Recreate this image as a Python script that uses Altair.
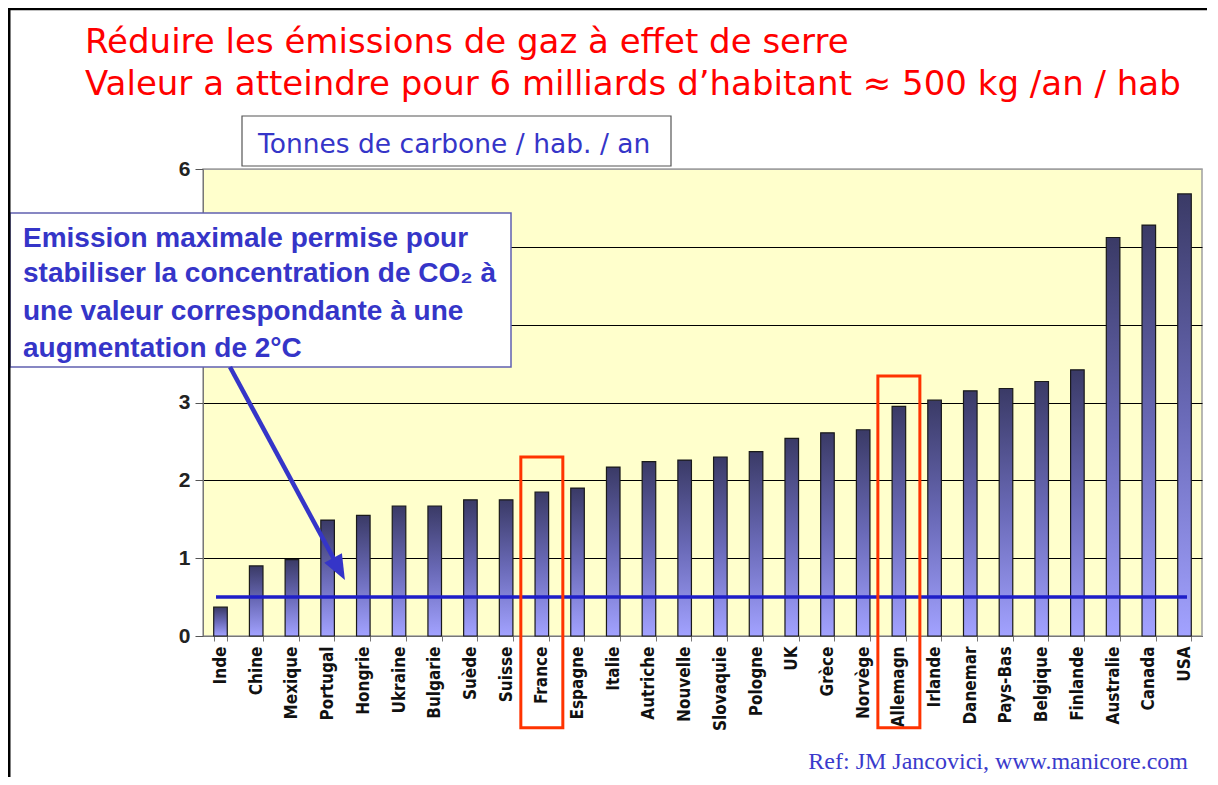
import altair as alt
import pandas as pd

# ---- data ----
countries = ["Inde", "Chine", "Mexique", "Portugal", "Hongrie", "Ukraine", "Bulgarie",
             "Suède", "Suisse", "France", "Espagne", "Italie", "Autriche", "Nouvelle",
             "Slovaquie", "Pologne", "UK", "Grèce", "Norvège", "Allemagn", "Irlande",
             "Danemar", "Pays-Bas", "Belgique", "Finlande", "Australie", "Canada", "USA"]
values = [0.37, 0.90, 0.98, 1.49, 1.55, 1.67, 1.67, 1.75, 1.75, 1.85, 1.90, 2.17, 2.24, 2.26,
          2.30, 2.37, 2.54, 2.61, 2.65, 2.95, 3.03, 3.15, 3.18, 3.27, 3.42, 5.12, 5.28, 5.68]
y_ticks = [0, 1, 2, 3, 4, 5, 6]
target = [0.5]
highlight = ["France", "Allemagn"]
highlight_top = [2.30, 3.34]
highlight_bottom = [-1.18, -1.18]

title_lines = ["Réduire les émissions de gaz à effet de serre",
               "Valeur a atteindre pour 6 milliards d’habitant ≈ 500 kg /an / hab"]
unit_label = "Tonnes de carbone / hab. / an"
note_lines = ["Emission maximale permise pour",
              "stabiliser la concentration de CO₂ à",
              "une valeur correspondante à une",
              "augmentation de 2°C"]
ref_text = "Ref: JM Jancovici, www.manicore.com"

df = pd.DataFrame({"pays": countries, "valeur": values})
df_target = pd.DataFrame({"objectif": target})
df_hl = pd.DataFrame({"pays": highlight, "haut": highlight_top, "bas": highlight_bottom})
one = pd.DataFrame({"k": [0]})

BLUE = "#3535c8"

x_scale = alt.Scale(domain=countries, paddingInner=0.62, paddingOuter=0.3)
y_scale = alt.Scale(domain=[0, 6], nice=False, zero=True)

x_axis = alt.Axis(title=None, labelAngle=270, labelAlign="right", labelBaseline="middle",
                  labelFont="DejaVu Sans Condensed", labelFontWeight="bold", labelFontSize=17,
                  labelColor="#111", labelPadding=5, tickBand="extent", tickSize=5,
                  tickColor="#777", domainColor="#777", grid=False, labelOverlap=False, zindex=0)
y_axis = alt.Axis(title=None, values=y_ticks, format="d", labelFont="Liberation Sans",
                  labelFontWeight="bold", labelFontSize=21, labelColor="#222", tickSize=8,
                  labelExpr="datum.value == 4 || datum.value == 5 ? '' : datum.label",
                  tickColor="#555", domainColor="#777", labelPadding=5, grid=True,
                  gridColor={"condition": {"test": "datum.value >= 6", "value": "#a0a0a0"},
                             "value": "#000000"},
                  gridWidth=1, zindex=0)

x_enc = alt.X("pays:N", sort=countries, scale=x_scale, axis=x_axis)

gradient = alt.Gradient(gradient="linear",
                        stops=[alt.GradientStop(color="#3a3a66", offset=0),
                               alt.GradientStop(color="#6a6ab8", offset=0.5),
                               alt.GradientStop(color="#a2a2ff", offset=1)],
                        x1=0, x2=0, y1=0, y2=1)

bars = alt.Chart(df).mark_bar(color=gradient, stroke="#1a1a1a", strokeWidth=1.2).encode(
    x=x_enc,
    y=alt.Y("valeur:Q", scale=y_scale, axis=y_axis),
)

target_rule = alt.Chart(df_target).mark_rule(color="#1e1ec8", strokeWidth=3.5).encode(
    x=alt.value(13), x2=alt.value(984),
    y=alt.Y("objectif:Q", scale=y_scale, axis=y_axis),
)

hl = alt.Chart(df_hl).mark_bar(fillOpacity=0, stroke="#ff3300", strokeWidth=3, width=42).encode(
    x=x_enc,
    y=alt.Y("haut:Q", scale=y_scale, axis=y_axis),
    y2="bas:Q",
)


def text_layer(txt, x, y, size, color, font, weight="normal", align="left"):
    return alt.Chart(one).mark_text(fontSize=size, color=color, font=font, fontWeight=weight,
                                    align=align, baseline="alphabetic").encode(
        x=alt.value(x), y=alt.value(y), text=alt.value(txt))


def rect_layer(x, x2, y, y2, stroke, sw):
    return alt.Chart(one).mark_rect(fill="white", stroke=stroke, strokeWidth=sw).encode(
        x=alt.value(x), x2=alt.value(x2), y=alt.value(y), y2=alt.value(y2))


def rule_layer(x, y, x2, y2, color, sw):
    return alt.Chart(one).mark_rule(color=color, strokeWidth=sw).encode(
        x=alt.value(x), y=alt.value(y), x2=alt.value(x2), y2=alt.value(y2))


layers = [bars, target_rule, hl]

# title
layers.append(text_layer(title_lines[0], -118, -116, 34, "#ff0000", "DejaVu Sans"))
layers.append(text_layer(title_lines[1], -118, -74, 34, "#ff0000", "DejaVu Sans"))

# unit box
layers.append(rect_layer(39, 468, -53, -3, "#555555", 1.2))
layers.append(text_layer(unit_label, 55, -16, 26.5, BLUE, "DejaVu Sans"))

# annotation box + arrow
layers.append(rect_layer(-193, 308, 44, 198, "#6060b0", 1.5))
for i, ln in enumerate(note_lines):
    layers.append(text_layer(ln, -180, [78, 113, 151, 188][i], 28, BLUE, "Liberation Sans", "bold"))
layers.append(rule_layer(27, 198, 132, 392, BLUE, 4.5))
layers.append(alt.Chart(one).mark_point(shape="M0,1L-0.8,-1L0.8,-1Z", size=625, angle=331.8,
                                        filled=True, color=BLUE, opacity=1, strokeWidth=0).encode(
    x=alt.value(136), y=alt.value(400)))

# reference
layers.append(text_layer(ref_text, 985, 600, 24, "#3a3acc", "Liberation Serif", align="right"))

# page frame
layers.append(rule_layer(-195, -160, 1004, -160, "#000", 2.5))
layers.append(rule_layer(-194, -161, -194, 620, "#000", 3))

chart = alt.layer(*layers).properties(
    width=999, height=467,
    padding={"left": 195, "top": 161, "right": 8, "bottom": 141},
    autosize=alt.AutoSizeParams(type="none"),
    background="white",
).configure_view(fill="#FFFFCC", stroke="#a0a0a0", strokeWidth=1.5)

chart.save("out.html", embed_options={"renderer": "svg", "actions": False})
